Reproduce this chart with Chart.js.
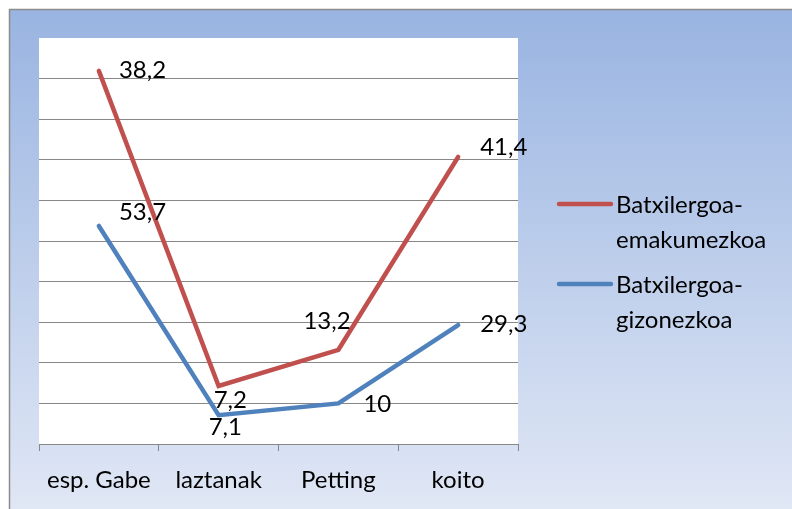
<!DOCTYPE html>
<html>
<head>
<meta charset="utf-8">
<script src="https://cdn.jsdelivr.net/npm/chart.js@4.4.1/dist/chart.umd.min.js"></script>
<style>
html,body{margin:0;padding:0;background:#fff;}
canvas{display:block;}
</style>
</head>
<body>
<canvas id="c" width="792" height="509"></canvas>
<script>
const categories = ['esp. Gabe', 'laztanak', 'Petting', 'koito'];
const seriesNames = [['Batxilergoa-', 'gizonezkoa'], ['Batxilergoa-', 'emakumezkoa']];
const gizonezkoa = [53.7, 7.1, 10, 29.3];
const emakumezkoa = [38.2, 7.2, 13.2, 41.4];
const yTicks = [0, 10, 20, 30, 40, 50, 60, 70, 80, 90, 100];

const FONT = '24px Lato, "Open Sans", sans-serif';
const RED = '#c0504d', BLUE = '#4f81bd', GRID = '#878787';

// label offsets (px) relative to each point, per dataset index
const labelOffsets = {
  0: [[20, -14], [-10, 12], [25, 1], [22, -1]],
  1: [[20, -1], [-5, 14], [-35, -29], [22, -10]]
};

const bgPlugin = {
  id: 'bg',
  beforeDraw(chart) {
    const ctx = chart.ctx;
    ctx.save();
    ctx.fillStyle = '#ffffff';
    ctx.fillRect(0, 0, chart.width, chart.height);
    const g = ctx.createLinearGradient(0, 9, 0, chart.height);
    g.addColorStop(0, '#99b4e1');
    g.addColorStop(1, '#e0e7f5');
    ctx.fillStyle = g;
    ctx.fillRect(9, 9, chart.width - 9, chart.height - 9);
    ctx.strokeStyle = '#8c8c8c';
    ctx.lineWidth = 1.5;
    ctx.beginPath();
    ctx.moveTo(9.5, chart.height);
    ctx.lineTo(9.5, 9.5);
    ctx.lineTo(chart.width, 9.5);
    ctx.stroke();
    const a = chart.chartArea;
    ctx.fillStyle = '#ffffff';
    ctx.fillRect(a.left, a.top, a.right - a.left, a.bottom - a.top);
    ctx.restore();
  }
};

const labelPlugin = {
  id: 'vlabels',
  afterDatasetsDraw(chart) {
    const ctx = chart.ctx;
    ctx.save();
    ctx.font = FONT;
    ctx.fillStyle = '#000';
    ctx.textAlign = 'left';
    ctx.textBaseline = 'middle';
    chart.data.datasets.forEach((ds, di) => {
      const meta = chart.getDatasetMeta(di);
      meta.data.forEach((pt, i) => {
        const off = labelOffsets[di][i];
        const txt = String(ds.data[i]).replace('.', ',');
        ctx.fillText(txt, pt.x + off[0], pt.y + off[1]);
      });
    });
    ctx.restore();
  }
};

const legendPlugin = {
  id: 'customLegend',
  afterDraw(chart) {
    const ctx = chart.ctx;
    ctx.save();
    ctx.font = FONT;
    ctx.fillStyle = '#000';
    ctx.textAlign = 'left';
    ctx.textBaseline = 'middle';
    const items = [
      { ds: 1, y: 204 },
      { ds: 0, y: 284 }
    ];
    items.forEach(it => {
      const ds = chart.data.datasets[it.ds];
      ctx.strokeStyle = ds.borderColor;
      ctx.lineWidth = 4.5;
      ctx.lineCap = 'round';
      ctx.beginPath();
      ctx.moveTo(559, it.y);
      ctx.lineTo(611, it.y);
      ctx.stroke();
      ds.labelLines.forEach((ln, k) => {
        ctx.fillText(ln, 616, it.y + 1 + k * 35);
      });
    });
    ctx.restore();
  }
};

new Chart(document.getElementById('c'), {
  type: 'line',
  data: {
    labels: categories,
    datasets: [
      {
        label: seriesNames[0].join(''),
        labelLines: seriesNames[0],
        data: gizonezkoa,
        borderColor: BLUE,
        backgroundColor: BLUE,
        borderWidth: 4.5,
        pointRadius: 0,
        tension: 0,
        fill: false,
        borderCapStyle: 'round',
        borderJoinStyle: 'miter'
      },
      {
        label: seriesNames[1].join(''),
        labelLines: seriesNames[1],
        data: emakumezkoa,
        borderColor: RED,
        backgroundColor: RED,
        borderWidth: 4.5,
        pointRadius: 0,
        tension: 0,
        fill: false,
        borderCapStyle: 'round',
        borderJoinStyle: 'miter'
      }
    ]
  },
  options: {
    responsive: false,
    devicePixelRatio: 1,
    animation: false,
    layout: { padding: { left: 39, top: 38, right: 274, bottom: 0 } },
    plugins: { legend: { display: false }, tooltip: { enabled: false } },
    scales: {
      x: {
        offset: true,
        grid: { offset: true, drawOnChartArea: false, drawTicks: true, tickLength: 7, color: GRID, lineWidth: 1 },
        border: { display: true, color: GRID, width: 1 },
        ticks: { color: '#000', font: { family: 'Lato, "Open Sans", sans-serif', size: 24 }, padding: 15, maxRotation: 0 },
        afterFit(s) { s.height = 65; }
      },
      y: {
        stacked: true,
        min: 0,
        max: 100,
        afterBuildTicks(s) { s.ticks = yTicks.map(v => ({ value: v })); },
        ticks: { display: false },
        grid: {
          drawTicks: false,
          color: ctx => (ctx.tick && ctx.tick.value === 100) ? 'rgba(0,0,0,0)' : GRID,
          lineWidth: 1
        },
        border: { display: false },
        afterFit(s) { s.width = 0; }
      }
    }
  },
  plugins: [bgPlugin, labelPlugin, legendPlugin]
});
</script>
</body>
</html>
